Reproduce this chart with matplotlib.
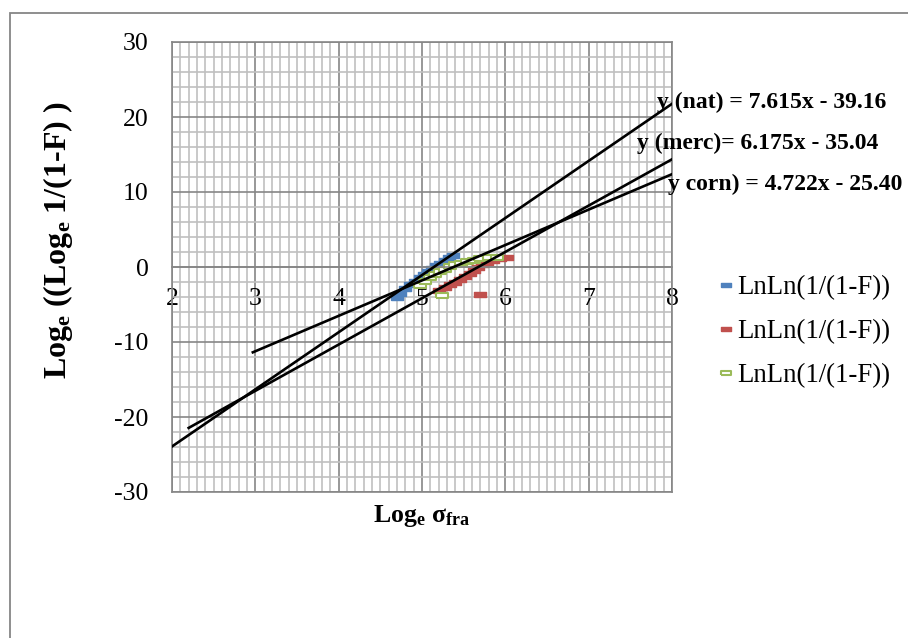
import matplotlib
matplotlib.use("Agg")
import matplotlib.pyplot as plt
from matplotlib.ticker import MultipleLocator
from matplotlib.patches import Rectangle
import numpy as np

plt.rcParams['font.family'] = ['Liberation Serif', 'DejaVu Serif']
plt.rcParams['mathtext.fontset'] = 'custom'
plt.rcParams['mathtext.rm'] = 'Liberation Serif'
plt.rcParams['mathtext.bf'] = 'Liberation Serif:bold'
plt.rcParams['mathtext.it'] = 'Liberation Serif:italic'
plt.rcParams['axes.unicode_minus'] = False

# nat (blue)
x_nat = [4.70, 4.74, 4.80, 4.86, 4.92, 4.97, 5.02, 5.07, 5.12, 5.17, 5.22, 5.27, 5.32, 5.37]
y_nat = [-4.0, -3.4, -2.8, -2.3, -1.8, -1.3, -0.9, -0.5, -0.1, 0.3, 0.6, 0.9, 1.3, 1.6]
# merc (red)
x_merc = [5.69, 5.20, 5.27, 5.33, 5.40, 5.46, 5.52, 5.57, 5.62, 5.67, 5.72, 5.78, 5.85, 5.93, 6.02]
y_merc = [-3.6, -3.0, -2.6, -2.3, -2.0, -1.6, -1.2, -0.8, -0.4, 0.0, 0.4, 0.7, 1.0, 1.2, 1.4]
# corn (green)
x_corn = [5.24, 4.98, 5.04, 5.10, 5.16, 5.22, 5.28, 5.34, 5.40, 5.47, 5.54, 5.62, 5.70, 5.80, 5.90]
y_corn = [-3.7, -2.4, -1.8, -1.3, -0.9, -0.5, -0.2, 0.1, 0.4, 0.6, 0.8, 1.0, 1.2, 1.3, 1.4]

# trendlines (slope, intercept, x range)
slopes = [7.615, 6.175, 4.722]
intercepts = [-39.16, -35.04, -25.40]
trend_x0 = [2.0, 2.2, 2.97]
trend_x1 = [8.0, 8.0, 8.0]
eq_labels = ['y (nat) = 7.615x - 39.16', 'y (merc)= 6.175x - 35.04', 'y corn) = 4.722x - 25.40']

x_ticks = [2, 3, 4, 5, 6, 7, 8]
y_ticks = [-30, -20, -10, 0, 10, 20, 30]

fig = plt.figure(figsize=(9.08, 6.38), dpi=100)
ax = fig.add_axes([172/908, 1-492/638, 500/908, 450/638])

rect = [(-1, -0.45), (1, -0.45), (1, 0.45), (-1, 0.45), (-1, -0.45)]
ax.plot(x_nat, y_nat, ls='none', marker=rect, ms=8, color='#4F81BD', mec='#4F81BD', label='LnLn(1/(1-F))')
ax.plot(x_merc, y_merc, ls='none', marker=rect, ms=8, color='#C0504D', mec='#C0504D', label='LnLn(1/(1-F))')
ax.plot(x_corn, y_corn, ls='none', marker=rect, ms=8, color='#9BBB59', mfc='white', mec='#9BBB59', mew=1.5,
        label='LnLn(1/(1-F))')

for m, b, a0, a1 in zip(slopes, intercepts, trend_x0, trend_x1):
    xs = np.array([a0, a1])
    ax.plot(xs, m*xs + b, color='black', lw=1.9, zorder=4)

eq_pos = [(7.82, 21.2), (7.58, 15.73), (7.95, 10.27)]
for lab, (tx, ty) in zip(eq_labels, eq_pos):
    ax.text(tx, ty, lab, fontsize=17, fontweight='bold', va='baseline', ha='left', clip_on=False, zorder=5)

ax.set_xlim(2, 8)
ax.set_ylim(-30, 30)
ax.set_xticks(x_ticks)
ax.set_yticks(y_ticks)
ax.xaxis.set_minor_locator(MultipleLocator(0.1))
ax.yaxis.set_minor_locator(MultipleLocator(2))
ax.grid(which='major', color='#868686', lw=1.2)
ax.grid(which='minor', color='#c0c0c0', lw=1.2)
ax.set_axisbelow(True)

ax.spines['bottom'].set_position(('data', 0))
for s in ax.spines.values():
    s.set_color('#868686')
    s.set_linewidth(1.2)
ax.tick_params(which='both', length=0)
ax.tick_params(axis='x', labelsize=18.5, pad=15)
ax.tick_params(axis='y', labelsize=18.5, pad=17)

# bottom edge of plot area
ax.axhline(-30, color='#868686', lw=1.2, clip_on=False)

ax.set_xlabel('Log$_\\mathbf{e}$ σ$_\\mathbf{fra}$', fontsize=18.5, fontweight='bold')
ax.xaxis.set_label_coords(0.5, -0.024)
fig.text(58/908, 1-240/638, 'Log$_\\mathbf{e}$ ((Log$_\\mathbf{e}$ 1/(1-F) )', rotation=90,
         fontsize=23, fontweight='bold', ha='center', va='center')

fig.legend(loc='upper left', bbox_to_anchor=(705/908, 1-262/638), frameon=False, fontsize=19.3,
           handlelength=0.6, handletextpad=0.1, labelspacing=0.7, borderpad=0, markerscale=0.9)

fig.add_artist(Rectangle((10/908, -0.1), 2, 1 - 13/638 + 0.1, transform=fig.transFigure,
                         fill=False, edgecolor='#868686', lw=1.3))

fig.savefig('out.png', dpi=100)
